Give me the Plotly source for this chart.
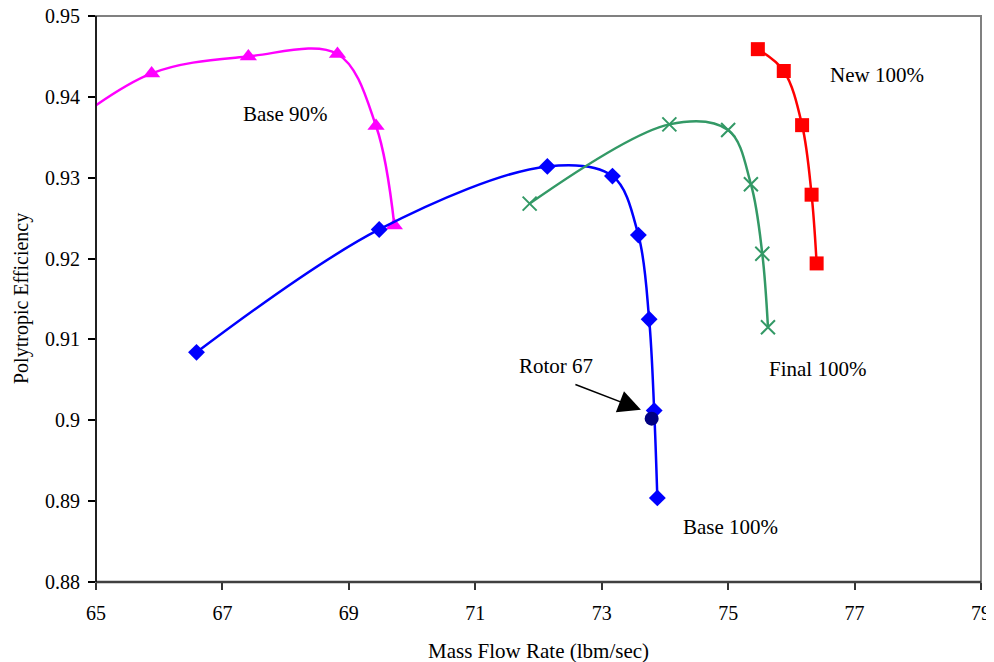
import plotly.graph_objects as go

# Base 90%
b90_x = [64.4, 65.88, 67.41, 68.82, 69.43, 69.72]
b90_y = [0.9355, 0.9429, 0.9450, 0.9453, 0.9364, 0.9241]
# Base 100%
b100_x = [66.59, 69.48, 72.14, 73.17, 73.58, 73.75, 73.83, 73.88]
b100_y = [0.9084, 0.9236, 0.9314, 0.9302, 0.9229, 0.9125, 0.9012, 0.8904]
# Final 100%
f100_x = [71.86, 74.07, 75.00, 75.36, 75.54, 75.63]
f100_y = [0.9268, 0.9366, 0.9359, 0.9292, 0.9206, 0.9115]
# New 100%
n100_x = [75.47, 75.88, 76.17, 76.32, 76.40]
n100_y = [0.9459, 0.9432, 0.9365, 0.9279, 0.9194]
# Rotor 67
r67_x = [73.79]
r67_y = [0.9002]

xticks = [65, 67, 69, 71, 73, 75, 77, 79]
yticks = [0.88, 0.89, 0.90, 0.91, 0.92, 0.93, 0.94, 0.95]
ytick_text = ["0.88", "0.89", "0.9", "0.91", "0.92", "0.93", "0.94", "0.95"]

FONT = "Liberation Serif, Times New Roman, serif"
FS = 21

fig = go.Figure()
fig.add_trace(go.Scatter(x=b90_x, y=b90_y, mode="lines+markers",
                         line=dict(color="#FF00FF", width=2.5, shape="spline", smoothing=1.0),
                         marker=dict(symbol="triangle-up", size=15, color="#FF00FF"),
                         name="Base 90%"))
fig.add_trace(go.Scatter(x=b100_x, y=b100_y, mode="lines+markers",
                         line=dict(color="#0000FF", width=2.5, shape="spline", smoothing=1.0),
                         marker=dict(symbol="diamond", size=13, color="#0000FF"),
                         name="Base 100%"))
fig.add_trace(go.Scatter(x=f100_x, y=f100_y, mode="lines+markers",
                         line=dict(color="#339966", width=2.5, shape="spline", smoothing=1.0),
                         marker=dict(symbol="x-thin", size=14, color="#339966",
                                     line=dict(color="#339966", width=2)),
                         name="Final 100%"))
fig.add_trace(go.Scatter(x=n100_x, y=n100_y, mode="lines+markers",
                         line=dict(color="#FF0000", width=2.5, shape="spline", smoothing=1.0),
                         marker=dict(symbol="square", size=14, color="#FF0000"),
                         name="New 100%"))
fig.add_trace(go.Scatter(x=r67_x, y=r67_y, mode="markers",
                         marker=dict(symbol="circle", size=14, color="#000080"),
                         name="Rotor 67"))

annots = [
    dict(x=67.99, y=0.9379, text="Base 90%"),
    dict(x=77.36, y=0.9427, text="New 100%"),
    dict(x=76.41, y=0.9064, text="Final 100%"),
    dict(x=75.03, y=0.8868, text="Base 100%"),
    dict(x=72.27, y=0.9067, text="Rotor 67"),
]
for a in annots:
    fig.add_annotation(x=a["x"], y=a["y"], text=a["text"], showarrow=False,
                       font=dict(family=FONT, size=FS, color="black"))
fig.add_annotation(x=73.62, y=0.9013, ax=72.56, ay=0.9045, axref="x", ayref="y",
                   text="", showarrow=True, arrowhead=2, arrowsize=3,
                   arrowwidth=1.5, arrowcolor="black")

# axis titles
fig.add_annotation(xref="paper", yref="paper", x=0, y=0.5, xshift=-75,
                   text="Polytropic Efficiency", textangle=-90, showarrow=False,
                   xanchor="center", yanchor="middle",
                   font=dict(family=FONT, size=FS - 1, color="black"))
fig.add_annotation(xref="paper", yref="paper", x=0.5, y=0, yshift=-69,
                   text="Mass Flow Rate (lbm/sec)", showarrow=False,
                   xanchor="center", yanchor="middle",
                   font=dict(family=FONT, size=FS, color="black"))

fig.update_layout(
    width=994, height=662,
    margin=dict(l=88, r=21, t=8, b=88),
    paper_bgcolor="white", plot_bgcolor="white",
    showlegend=False,
    font=dict(family=FONT, size=FS, color="black"),
    xaxis=dict(range=[65, 79], tickvals=xticks, ticks="outside", ticklen=7,
               tickcolor="#333333", tickwidth=1.5, showgrid=False, zeroline=False,
               automargin=False, showline=False,
               ticklabelstandoff=6, ticklabeloverflow="allow",
               tickfont=dict(family=FONT, size=FS - 1)),
    yaxis=dict(range=[0.88, 0.95], tickvals=yticks, ticktext=ytick_text,
               ticks="outside", ticklen=7, tickcolor="black", tickwidth=1.5,
               automargin=False, showgrid=False, zeroline=False, showline=False,
               ticklabelstandoff=4, ticklabeloverflow="allow",
               tickfont=dict(family=FONT, size=FS - 1)),
)
# plot frame
fig.add_shape(type="rect", xref="paper", yref="paper", x0=0, x1=1, y0=0, y1=1,
              line=dict(color="#808080", width=2), layer="below")
fig.add_shape(type="line", xref="paper", yref="paper", x0=0, x1=1, y0=0, y1=0,
              line=dict(color="#404040", width=2.5))
fig.add_shape(type="line", xref="paper", yref="paper", x0=0, x1=0, y0=0, y1=1,
              line=dict(color="black", width=1.5))

fig.write_html("out.html")
